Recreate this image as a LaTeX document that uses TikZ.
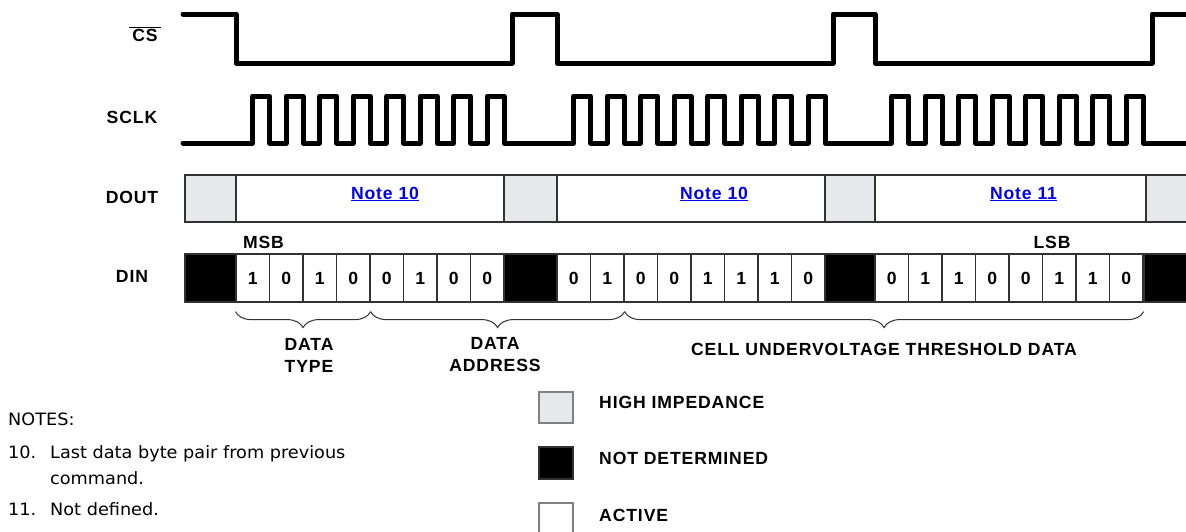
\documentclass[tikz,border=0pt]{standalone}
\usepackage{fontspec}
\setmainfont{Liberation Sans}
\newfontfamily\lblfont{Liberation Sans}[LetterSpace=5]
\newfontfamily\notefont{DejaVu Sans}[FakeStretch=1.04]
\usepackage{tikz}
\usetikzlibrary{decorations.pathreplacing}
\definecolor{hizgray}{RGB}{231,232,236}
\definecolor{boxline}{RGB}{50,50,50}
\definecolor{notelink}{RGB}{0,0,238}

\begin{document}
\begin{tikzpicture}[x=1pt, y=-1pt,
    lbl/.style = {font=\fontsize{17.6}{22}\lblfont\bfseries, inner sep=0pt},
    wave/.style = {line width=5pt, line join=round, line cap=round},
    bitcell/.style = {lbl, draw=boxline, line width=1.2pt, minimum width=33.5pt, minimum height=48pt},
    ndcell/.style = {draw=boxline, line width=1.2pt, fill=black, minimum height=48pt, inner sep=0pt},
    hzcell/.style = {draw=boxline, line width=1.2pt, fill=hizgray, minimum height=47pt, inner sep=0pt},
    actcell/.style = {draw=boxline, line width=1.2pt, fill=white, minimum height=47pt, inner sep=0pt},
    linknote/.style = {lbl, text=notelink, anchor=base},
    brc/.style = {draw=boxline, line width=1pt, decorate, decoration={brace, mirror, amplitude=16pt}},
    note/.style = {font=\fontsize{17}{22}\notefont, anchor=base west, inner sep=0pt}]
    \useasboundingbox (0,0) rectangle (1186,531);

    \node[lbl] (cs) at (145,34) {$\overline{\mbox{\,CS\,}}$};
    \node[lbl] (sclk) at (132,117) {SCLK};
    \node[lbl] (dout) at (132,197) {DOUT};
    \node[lbl] (din) at (132,276) {DIN};

    \draw[wave] (183,14) -- (236,14) -- (236,63) -- (512,63) -- (512,14) -- (557,14) -- (557,63)
        -- (833,63) -- (833,14) -- (875,14) -- (875,63) -- (1152,63) -- (1152,14) -- (1200,14);
    \draw[wave] (183,143) \foreach \f in {236,557,875} {\foreach \k in {0,...,7} {
        -- ({\f+(\k+0.5)*33.5},143) -- ({\f+(\k+0.5)*33.5},96)
        -- ({\f+(\k+1)*33.5},96) -- ({\f+(\k+1)*33.5},143)}} -- (1200,143);

    \node[hzcell, minimum width=51pt] (hz0) at (210.5,198.5) {};
    \node[actcell, minimum width=268pt] (act1) at (370,198.5) {};
    \node[hzcell, minimum width=53pt] (hz1) at (530.5,198.5) {};
    \node[actcell, minimum width=268pt] (act2) at (691,198.5) {};
    \node[hzcell, minimum width=50pt] (hz2) at (850,198.5) {};
    \node[actcell, minimum width=271pt] (act3) at (1010.5,198.5) {};
    \node[hzcell, minimum width=54pt] (hz3) at (1173,198.5) {};
    \node[linknote] (nt1) at (385,199) {\underline{Note 10}};
    \node[linknote] (nt2) at (714,199) {\underline{Note 10}};
    \node[linknote] (nt3) at (1023.5,199) {\underline{Note 11}};

    \node[lbl] (msb) at (263.5,242) {MSB};
    \node[lbl] (lsb) at (1052,242) {LSB};
    \node[ndcell, minimum width=51pt] (nd0) at (210.5,278) {};
    \node[ndcell, minimum width=53pt] (nd1) at (530.5,278) {};
    \node[ndcell, minimum width=50pt] (nd2) at (850,278) {};
    \node[ndcell, minimum width=56pt] (nd3) at (1172,278) {};
    \foreach \f/\bits [count=\g] in {236/{1,0,1,0,0,1,0,0}, 557/{0,1,0,0,1,1,1,0}, 875/{0,1,1,0,0,1,1,0}}
        \foreach \b [count=\k] in \bits
            \node[bitcell] (d\g\k) at ({\f+(\k-0.5)*33.5},278) {\b};

    \draw[brc] ([yshift=-9pt]d11.south west) -- ([yshift=-9pt]d14.south east);
    \draw[brc] ([yshift=-9pt]d14.south east) -- ([yshift=-9pt]d22.south east);
    \draw[brc] ([yshift=-9pt]d22.south east) -- ([yshift=-9pt]d38.south east);
    \node[lbl, align=center] (dtype) at (309,355) {DATA\\TYPE};
    \node[lbl, align=center] (daddr) at (495,355) {DATA\\ADDRESS};
    \node[lbl] (cuv) at (884,349.5) {CELL UNDERVOLTAGE THRESHOLD DATA};

    \node[hzcell, draw=gray, minimum width=34pt, minimum height=31pt] (lg1) at (556,407.5) {};
    \node[ndcell, minimum width=34pt, minimum height=32pt] (lg2) at (556,463) {};
    \node[actcell, draw=gray, minimum width=34pt, minimum height=32pt] (lg3) at (556,519) {};
    \node[lbl, anchor=west] (lt1) at (599,402) {HIGH IMPEDANCE};
    \node[lbl, anchor=west] (lt2) at (599,458) {NOT DETERMINED};
    \node[lbl, anchor=west] (lt3) at (599,515) {ACTIVE};

    \node[note] (nts) at (8,425.5) {NOTES:};
    \node[note] (n10) at (8,458) {10.};
    \node[note] (n10a) at (50,458) {Last data byte pair from previous};
    \node[note] (n10b) at (50,484) {command.};
    \node[note] (n11) at (8,515) {11.};
    \node[note] (n11a) at (50,515) {Not defined.};
\end{tikzpicture}
\end{document}
